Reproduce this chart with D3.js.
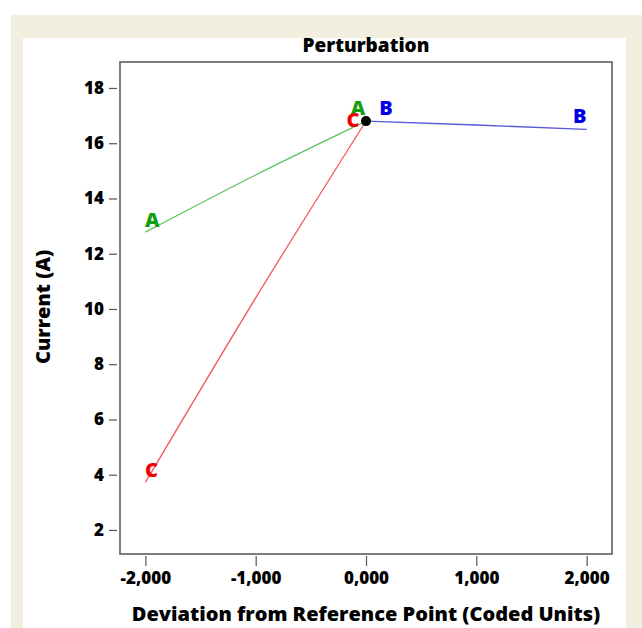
<!doctype html>
<meta charset="utf-8">
<title>Perturbation</title>
<style>
body { margin: 0; background: #fff; }
text { font-family: "Open Sans", "Noto Sans", sans-serif; font-weight: 800; }
.frame { fill: none; stroke: #555; stroke-width: 1.5; }
.tick line { stroke: #555; stroke-width: 1.2; }
</style>
<script src="https://d3js.org/d3.v7.min.js"></script>
<body>
<script>
// deviation (coded units) and current (A) for each factor
var dev = [-2, -1, 0];
var devB = [0, 1, 2];
var curA = [12.78, 14.85, 16.8];
var curB = [16.8, 16.66, 16.5];
var curC = [3.72, 10.4, 16.8];
var xTicks = [-2, -1, 0, 1, 2];
var yTicks = [2, 4, 6, 8, 10, 12, 14, 16, 18];

var series = [
  {name: "A", xs: dev, ys: curA, line: "#5cc45c", text: "#12a012"},
  {name: "C", xs: dev, ys: curC, line: "#f25858", text: "#f00000"},
  {name: "B", xs: devB, ys: curB, line: "#5858d8", text: "#0000e8"}
];

var width = 642, height = 628;
var svg = d3.select("body").append("svg")
    .attr("width", width)
    .attr("height", height);

// page background
svg.append("rect").attr("x", 11).attr("y", 15).attr("width", 631).attr("height", 613).attr("fill", "#f2efe0");
svg.append("rect").attr("x", 23).attr("y", 38).attr("width", 603).attr("height", 590).attr("fill", "#fff");

var pl = 120, pr = 612, pt = 62, pb = 554;
var x = d3.scaleLinear().domain([-2.23, 2.23]).range([pl, pr]);
var y = d3.scaleLinear().domain([1.13, 18.94]).range([pb, pt]);

svg.append("rect").attr("class", "frame")
    .attr("x", pl).attr("y", pt)
    .attr("width", pr - pl).attr("height", pb - pt);

var fmt = function(d) {
  return (d < 0 ? "-" : "") + d3.format(".3f")(Math.abs(d)).replace(".", ",");
};

var xAxis = svg.append("g")
    .attr("transform", "translate(0," + (pb + 2) + ")")
    .call(d3.axisBottom(x).tickValues(xTicks).tickSize(10).tickPadding(6).tickFormat(fmt));
xAxis.select(".domain").remove();
xAxis.selectAll("text").style("font-size", "17px").attr("fill", "#000");

var yAxis = svg.append("g")
    .attr("transform", "translate(" + (pl - 3) + ",0)")
    .call(d3.axisLeft(y).tickValues(yTicks).tickSize(8).tickPadding(5));
yAxis.select(".domain").remove();
yAxis.selectAll("text").style("font-size", "17px").attr("fill", "#000");

svg.append("text")
    .attr("x", 366).attr("y", 52)
    .attr("text-anchor", "middle")
    .style("font-size", "19px")
    .text("Perturbation");

svg.append("text")
    .attr("x", 366).attr("y", 621)
    .attr("text-anchor", "middle")
    .style("font-size", "20px")
    .text("Deviation from Reference Point (Coded Units)");

svg.append("text")
    .attr("transform", "translate(50,307) rotate(-90)")
    .attr("text-anchor", "middle")
    .style("font-size", "20px")
    .text("Current (A)");

var line = d3.line()
    .x(function(d) { return x(d[0]); })
    .y(function(d) { return y(d[1]); })
    .curve(d3.curveMonotoneX);

series.forEach(function(s) {
  var pts = d3.zip(s.xs, s.ys);
  svg.append("path")
      .attr("d", line(pts))
      .attr("fill", "none")
      .attr("stroke", s.line)
      .attr("stroke-width", 1.3);
});

// letter labels at both ends of every line
var offsets = {
  A: [[7, -5], [-8, -6]],
  C: [[6, -5], [-13, 6]],
  B: [[20, -6], [-7, -6]]
};
series.forEach(function(s) {
  var n = s.xs.length;
  var ends = [[s.xs[0], s.ys[0]], [s.xs[n - 1], s.ys[n - 1]]];
  ends.forEach(function(p, i) {
    var o = offsets[s.name][i];
    svg.append("text")
        .attr("x", x(p[0]) + o[0])
        .attr("y", y(p[1]) + o[1])
        .attr("text-anchor", "middle")
        .attr("fill", s.text)
        .style("font-size", "20px")
        .text(s.name);
  });
});

svg.append("circle")
    .attr("cx", x(dev[2])).attr("cy", y(curA[2]))
    .attr("r", 5)
    .attr("fill", "#000");
</script>
